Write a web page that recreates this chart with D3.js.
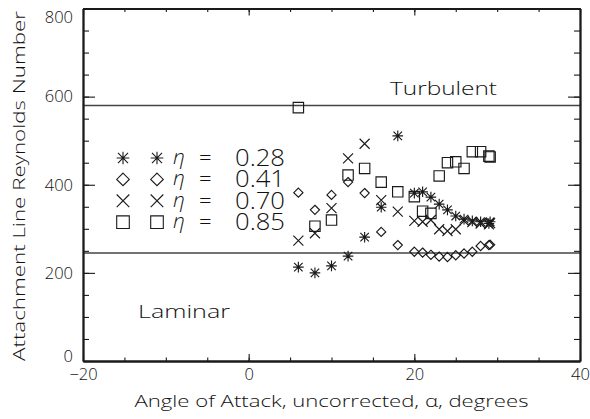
<!DOCTYPE html>
<html>
<head>
<meta charset="utf-8">
<script src="https://cdn.jsdelivr.net/npm/d3@7"></script>
<style>
  html, body { margin: 0; padding: 0; background: #fff; }
  svg text { font-family: "Open Sans", "DejaVu Sans", sans-serif; font-weight: 300; fill: #111; }
</style>
</head>
<body>
<svg id="chart" width="590" height="419"></svg>
<script>
// ---- data ----
const xLabel = "Angle of Attack, uncorrected, \u03b1, degrees";
const yLabel = "Attachment Line Reynolds Number";
const xTicks = [-20, 0, 20, 40];
const yTicks = [0, 200, 400, 600, 800];
const turbulentLevel = 580;
const laminarLevel = 245;

const etaNames = ["0.28", "0.41", "0.70", "0.85"];
const etaSymbols = ["asterisk", "diamond", "cross", "square"];

const alpha = [6, 8, 10, 12, 14, 16, 18, 20, 21, 22, 23, 24, 25, 26, 27, 28, 29, 29.15];
const re028 = [213, 200, 216, 238, 281, 349, 511, 381, 384, 372, 356, 343, 329, 322, 318, 316, 312, 316];
const re041 = [382, 343, 377, 406, 381, 293, 263, 248, 246, 241, 237, 236, 240, 244, 248, 261, 263, 264];
const re070 = [273, 290, 347, 460, 493, 365, 339, 318, 316, 320, 299, 295, 299, 318, 315, 312, 310, 313];
const re085 = [575, 306, 320, 422, 437, 406, 384, 373, 340, 335, 420, 450, 452, 437, 475, 475, 465, 463];
const seriesValues = [re028, re041, re070, re085];

// ---- layout ----
const svg = d3.select("#chart");
const ink = "#1a1a1a";
const x = d3.scaleLinear().domain([-20, 40]).range([83, 580]);
const y = d3.scaleLinear().domain([0, 800]).range([361, 8.5]);

function symPath(type, r) {
  const p = d3.path();
  if (type === "asterisk") {
    p.moveTo(0, -r); p.lineTo(0, r);
    p.moveTo(-r, 0); p.lineTo(r, 0);
    const d = r * 0.8;
    p.moveTo(-d, -d); p.lineTo(d, d);
    p.moveTo(-d, d); p.lineTo(d, -d);
  } else if (type === "diamond") {
    p.moveTo(0, -r); p.lineTo(r, 0); p.lineTo(0, r); p.lineTo(-r, 0); p.closePath();
  } else if (type === "cross") {
    p.moveTo(-r, -r); p.lineTo(r, r);
    p.moveTo(-r, r); p.lineTo(r, -r);
  } else {
    p.rect(-r, -r, 2 * r, 2 * r);
  }
  return p.toString();
}
const symSize = { asterisk: 5.3, diamond: 4.6, cross: 5, square: 5.2 };

// reference lines
svg.append("g").selectAll("line").data([turbulentLevel, laminarLevel]).join("line")
  .attr("x1", x(-20)).attr("x2", x(40))
  .attr("y1", d => y(d)).attr("y2", d => y(d))
  .attr("stroke", "#444").attr("stroke-width", 1.5);

// axes
const bottomG = svg.append("g").attr("transform", `translate(0,${y(0)})`);
bottomG.call(d3.axisBottom(x).tickValues(d3.range(-20, 41, 5)).tickSizeInner(-3.5).tickSizeOuter(0).tickFormat(""));
bottomG.call(g => g.append("g").call(d3.axisBottom(x).tickValues(xTicks).tickSizeInner(-7).tickSizeOuter(0).tickPadding(7).tickFormat(d => d < 0 ? "\u2212" + Math.abs(d) : d)));
const topG = svg.append("g").attr("transform", `translate(0,${y(800)})`);
topG.call(d3.axisTop(x).tickValues(d3.range(-20, 41, 5)).tickSizeInner(-3.5).tickSizeOuter(0).tickFormat(""));
topG.call(g => g.append("g").call(d3.axisTop(x).tickValues(xTicks).tickSizeInner(-7).tickSizeOuter(0).tickFormat("")));
const leftG = svg.append("g").attr("transform", `translate(${x(-20)},0)`);
leftG.call(d3.axisLeft(y).tickValues(d3.range(0, 801, 50)).tickSizeInner(-6).tickSizeOuter(0).tickFormat(""));
leftG.call(g => g.append("g").call(d3.axisLeft(y).tickValues(yTicks).tickSizeInner(-12).tickSizeOuter(0).tickPadding(10).tickFormat(d3.format("d"))));
const rightG = svg.append("g").attr("transform", `translate(${x(40)},0)`);
rightG.call(d3.axisRight(y).tickValues(d3.range(0, 801, 50)).tickSizeInner(-6).tickSizeOuter(0).tickFormat(""));
rightG.call(g => g.append("g").call(d3.axisRight(y).tickValues(yTicks).tickSizeInner(-12).tickSizeOuter(0).tickFormat("")));

svg.selectAll(".domain").attr("stroke", ink).attr("stroke-width", 1.8);
svg.selectAll(".tick line").attr("stroke", ink).attr("stroke-width", 1.1);
svg.selectAll(".tick text").attr("font-size", 16.5).attr("fill", "#111")
  .style("font-family", "'Open Sans', 'DejaVu Sans', sans-serif").style("font-weight", 300);
leftG.selectAll(".tick text").attr("dy", d => d === 800 ? "0.85em" : d === 0 ? "0.05em" : "0.32em");

// axis titles
svg.append("text").attr("x", (x(-20) + x(40)) / 2).attr("y", 407)
  .attr("text-anchor", "middle").attr("font-size", 16.5)
  .attr("textLength", 394).attr("lengthAdjust", "spacingAndGlyphs")
  .text(xLabel);
svg.append("text").attr("transform", "translate(25,186) rotate(-90)")
  .attr("text-anchor", "middle").attr("font-size", 16.5)
  .attr("textLength", 350).attr("lengthAdjust", "spacingAndGlyphs")
  .text(yLabel);

// region labels
svg.append("text").attr("x", 390).attr("y", 95).attr("font-size", 19)
  .attr("textLength", 107).attr("lengthAdjust", "spacingAndGlyphs").text("Turbulent");
svg.append("text").attr("x", 138).attr("y", 318).attr("font-size", 19)
  .attr("textLength", 92).attr("lengthAdjust", "spacingAndGlyphs").text("Laminar");

// data points
const marks = svg.append("g");
seriesValues.forEach((vals, i) => {
  const type = etaSymbols[i];
  marks.append("g").selectAll("path").data(vals.map((v, j) => [alpha[j], v])).join("path")
    .attr("transform", d => `translate(${x(d[0])},${y(d[1])})`)
    .attr("d", symPath(type, symSize[type]))
    .attr("fill", "none").attr("stroke", ink).attr("stroke-width", 1.15);
});

// legend
const legend = svg.append("g");
etaNames.forEach((name, i) => {
  const cy = 158 + i * 21.4;
  const type = etaSymbols[i];
  [123, 157].forEach(cx => {
    legend.append("path").attr("transform", `translate(${cx},${cy})`)
      .attr("d", symPath(type, 6.3)).attr("fill", "none").attr("stroke", ink).attr("stroke-width", 1.1);
  });
  const t = legend.append("text").attr("y", cy + 8).attr("font-size", 22);
  t.append("tspan").attr("x", 173).attr("dy", -2).style("font-style", "italic").attr("font-size", 21).text("\u03b7");
  t.append("tspan").attr("x", 199).attr("dy", 1).text("=");
  t.append("tspan").attr("x", 235).attr("dy", 1).attr("font-size", 23)
    .attr("textLength", 50).attr("lengthAdjust", "spacingAndGlyphs").text(name);
});
</script>
</body>
</html>
